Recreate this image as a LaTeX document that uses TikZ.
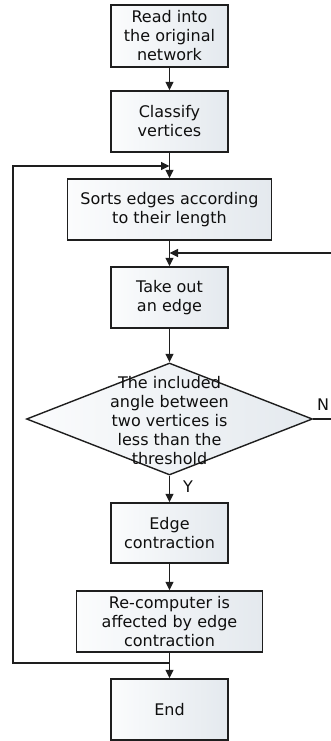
\documentclass[tikz,border=0pt]{standalone}
\usepackage{fontspec}
\setmainfont{DejaVu Sans}
\usetikzlibrary{shapes.geometric,arrows.meta}
\definecolor{boxl}{RGB}{251,252,253}
\definecolor{boxr}{RGB}{228,233,238}
\definecolor{edgec}{RGB}{30,30,30}
\definecolor{txtc}{RGB}{15,15,15}
\begin{document}
\begin{tikzpicture}[x=1pt,y=-1pt,
  every node/.style={font=\fontsize{16}{19}\selectfont, text=txtc},
  stepbox/.style={draw=edgec, line width=1.4pt, left color=boxl, right color=boxr, align=center, inner sep=0pt},
  decbox/.style={diamond, draw=edgec, line width=1.4pt, left color=boxl, right color=boxr, inner sep=0pt, minimum width=286pt, minimum height=112pt},
  conn/.style={draw=edgec, line width=1.4pt},
  arr/.style={conn, -{Triangle[width=8pt,length=8.5pt]}}]
\useasboundingbox (0,0) rectangle (331,741);
\node[stepbox, minimum width=117pt, minimum height=62pt] (b1) at (169.5,36) {Read into\\the original\\network};
\node[stepbox, minimum width=117pt, minimum height=61pt] (b2) at (169.5,121.5) {Classify\\vertices};
\node[stepbox, minimum width=204pt, minimum height=61pt] (b3) at (169.5,209.5) {Sorts edges according\\to their length};
\node[stepbox, minimum width=117pt, minimum height=61pt] (b4) at (169.5,297.5) {Take out\\an edge};
\node[decbox] (d) at (169.5,419) {};
\node[align=center] (dt) at (169.5,421) {The included\\angle between\\two vertices is\\less than the\\threshold};
\node[stepbox, minimum width=117pt, minimum height=60pt] (b5) at (169.5,533) {Edge\\contraction};
\node[stepbox, minimum width=186pt, minimum height=61pt] (b6) at (169.5,621.5) {Re-computer is\\affected by edge\\contraction};
\node[stepbox, minimum width=117pt, minimum height=61pt] (b7) at (169.5,709.5) {End};
\node (nl) at (323,405) {N};
\node (yl) at (188,487) {Y};
\coordinate (j1) at (169.5,663);
\coordinate (lt) at (13,166);
\coordinate (lin) at (169.5,166);
\coordinate (rt) at (333,419);
\coordinate (rin) at (169.5,253);
\draw[arr] (b1) -- (b2);
\draw[arr] (b2) -- (b3);
\draw[arr] (b3) -- (b4);
\draw[arr] (b4) -- (d);
\draw[arr] (d) -- (b5);
\draw[arr] (b5) -- (b6);
\draw[arr] (b6) -- (b7);
\draw[arr] (j1) -| (lt) -- (lin);
\draw[arr] (d.east) -- (rt) |- (rin);
\end{tikzpicture}
\end{document}
